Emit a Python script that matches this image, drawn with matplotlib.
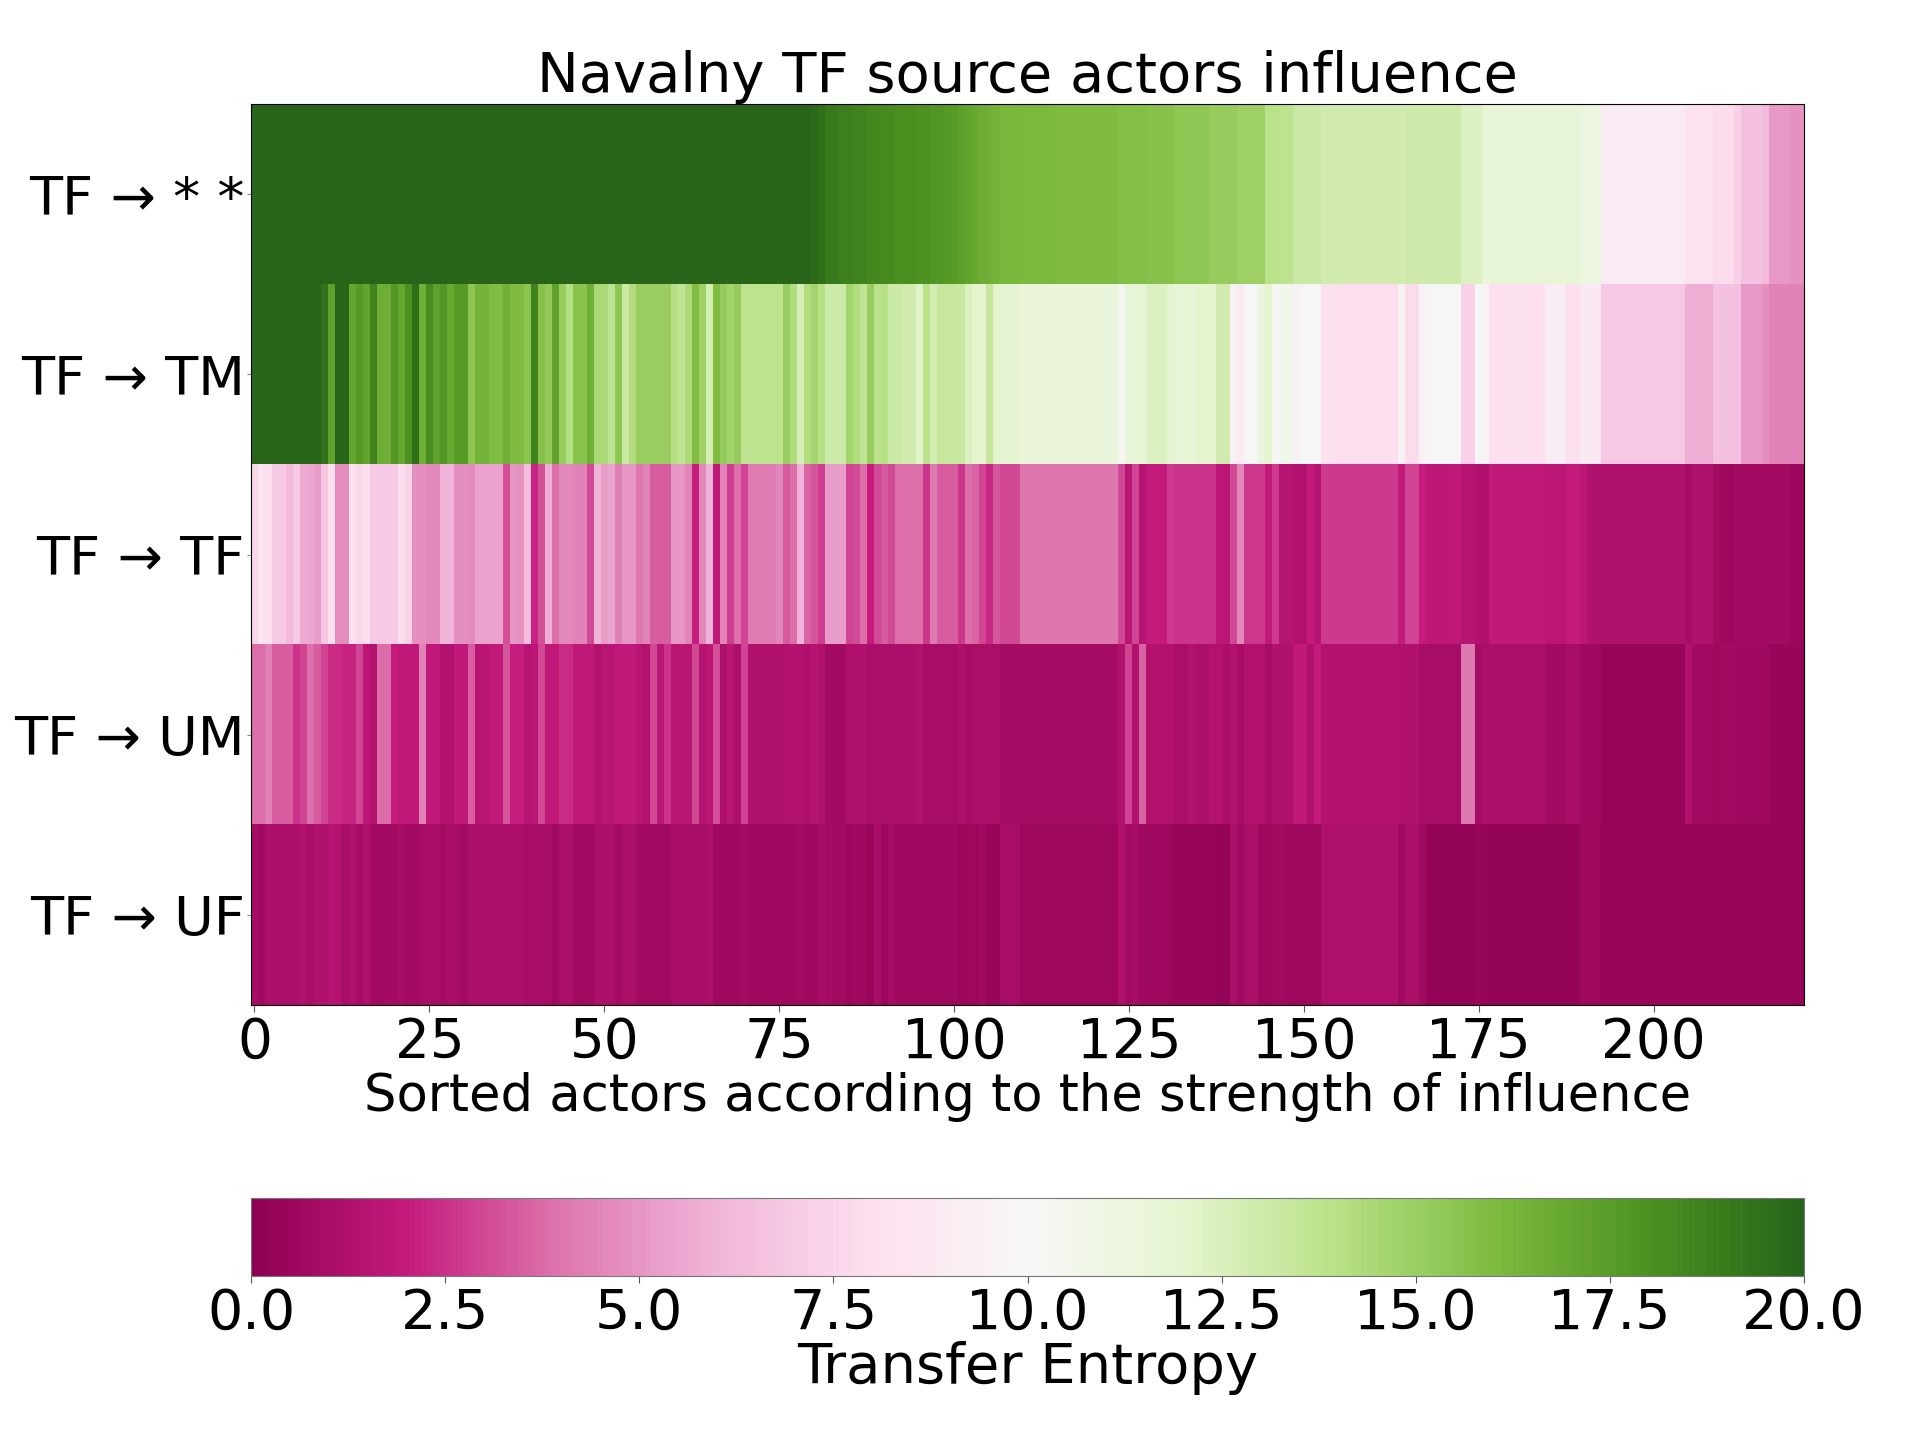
import numpy as np
import matplotlib.pyplot as plt

n_actors = 222
row_labels = ['TF → * *', 'TF → TM', 'TF → TF', 'TF → UM', 'TF → UF']

# (first column, value) for each stretch of equal colour
tf_all = [(0, 19.9), (80, 19.7), (81, 19.4), (82, 19.0), (84, 18.8), (86, 18.6), (88, 18.4), (90, 18.3),
          (92, 18.1), (95, 17.9), (97, 17.8), (99, 17.6), (100, 17.5), (101, 17.3), (102, 17.1), (103, 16.9),
          (104, 16.7), (105, 16.5), (106, 16.4), (107, 16.2), (110, 16.1), (115, 16.0), (124, 15.8), (128, 15.7),
          (132, 15.4), (137, 15.1), (141, 14.9), (145, 13.9), (147, 13.7), (149, 13.2), (153, 12.9),
          (165, 13.0), (173, 12.4), (176, 11.6), (190, 11.3), (193, 9.0), (205, 8.2), (209, 7.8),
          (212, 7.3), (213, 6.6), (216, 6.2), (217, 5.1), (220, 4.9)]

tf_tm = [(0, 19.9), (10, 19.3), (11, 17.2), (12, 19.9), (14, 17.0), (15, 17.6), (16, 17.1), (17, 18.6),
         (18, 16.6), (20, 17.7), (21, 17.0), (22, 18.0), (23, 19.5), (24, 16.5), (25, 18.2), (26, 17.2),
         (27, 17.7), (28, 16.9), (29, 17.5), (31, 15.4), (32, 16.4), (34, 16.0), (36, 16.5), (37, 16.0),
         (39, 15.5), (40, 18.6), (41, 15.7), (42, 15.3), (43, 17.2), (44, 15.0), (45, 14.0), (46, 15.6),
         (48, 16.5), (49, 14.4), (51, 13.7), (52, 15.4), (53, 13.2), (54, 14.2), (55, 15.0), (60, 14.0),
         (61, 13.6), (62, 14.3), (63, 15.9), (64, 14.9), (65, 12.8), (66, 16.0), (67, 15.2), (68, 14.7),
         (69, 15.1), (70, 13.7), (76, 15.0), (77, 14.2), (78, 12.6), (79, 14.2), (80, 14.7), (81, 14.0),
         (82, 13.1), (85, 14.7), (86, 14.2), (87, 13.6), (88, 15.0), (89, 13.8), (90, 14.0), (91, 13.2),
         (93, 12.9), (95, 12.2), (96, 13.9), (97, 12.8), (98, 13.3), (102, 12.4), (103, 12.0), (105, 13.3),
         (106, 12.1), (107, 11.9), (110, 11.4), (124, 10.2), (125, 11.6), (128, 12.4), (131, 11.9),
         (132, 11.7), (135, 12.0), (138, 12.9), (140, 9.5), (141, 9.0), (142, 10.0), (144, 11.2), (145, 12.0),
         (146, 10.0), (147, 10.7), (149, 9.5), (150, 10.0), (153, 8.2), (155, 7.9), (164, 9.7), (165, 7.8),
         (167, 9.6), (168, 10.0), (173, 7.3), (175, 10.0), (176, 9.6), (177, 8.0), (185, 9.1), (188, 8.0),
         (190, 8.8), (193, 6.9), (205, 5.8), (209, 6.6), (213, 5.1), (216, 4.8), (217, 4.4)]

tf_tf = [(0, 7.5), (1, 8.3), (2, 7.9), (3, 7.0), (5, 6.2), (6, 7.0), (7, 5.7), (8, 5.6), (9, 5.2), (10, 6.8),
         (11, 8.0), (12, 4.7), (14, 8.0), (15, 7.7), (16, 8.1), (17, 7.0), (21, 7.9), (22, 7.4), (23, 4.8),
         (25, 4.6), (27, 6.0), (29, 4.8), (31, 4.7), (32, 5.4), (36, 3.2), (37, 5.0), (38, 4.9), (39, 6.4),
         (40, 2.2), (41, 3.2), (42, 5.8), (43, 3.9), (44, 4.6), (46, 4.4), (48, 3.0), (49, 6.0), (50, 5.2),
         (51, 5.5), (52, 4.3), (53, 5.0), (55, 4.0), (56, 4.4), (57, 3.5), (60, 5.0), (62, 4.5), (63, 2.1),
         (64, 4.6), (65, 6.0), (66, 1.9), (67, 4.4), (68, 2.8), (69, 3.9), (70, 2.9), (71, 4.2), (75, 4.6),
         (76, 3.4), (77, 3.9), (78, 6.0), (79, 3.6), (80, 3.3), (81, 2.8), (82, 5.3), (85, 2.9), (86, 3.1),
         (87, 3.9), (88, 2.0), (89, 3.0), (90, 3.4), (91, 3.0), (92, 3.9), (96, 2.6), (97, 4.2), (98, 3.5),
         (101, 2.6), (102, 3.9), (103, 3.6), (104, 2.9), (105, 2.3), (106, 3.3), (107, 3.0), (110, 4.0),
         (124, 3.0), (125, 1.6), (126, 2.9), (127, 1.5), (128, 2.0), (131, 2.7), (132, 2.5), (138, 1.7),
         (140, 3.0), (141, 4.6), (142, 2.6), (145, 1.9), (146, 2.7), (147, 1.5), (149, 1.4), (151, 2.0),
         (152, 1.5), (153, 2.7), (164, 2.0), (165, 2.9), (167, 2.1), (168, 1.75), (172, 1.9), (173, 1.5),
         (175, 1.4), (176, 1.2), (177, 1.95), (185, 1.7), (188, 2.0), (190, 1.7), (191, 1.3), (205, 1.0),
         (206, 1.3), (209, 0.85), (210, 0.55), (212, 0.8), (216, 0.85), (217, 0.8), (220, 0.5)]

tf_um = [(0, 3.9), (2, 4.3), (3, 3.5), (6, 2.5), (7, 2.9), (8, 3.9), (9, 3.5), (10, 2.9), (11, 2.4), (13, 2.2),
         (15, 2.9), (16, 1.7), (17, 1.4), (18, 3.8), (20, 2.0), (21, 1.8), (24, 4.4), (25, 1.9), (27, 1.4),
         (29, 1.9), (31, 3.5), (32, 1.6), (34, 1.9), (36, 3.3), (37, 2.1), (39, 1.5), (40, 1.7), (41, 3.0),
         (42, 1.9), (44, 2.4), (46, 1.8), (49, 1.4), (50, 1.6), (52, 1.9), (55, 1.6), (56, 1.4), (57, 3.0),
         (58, 1.7), (59, 2.5), (60, 1.6), (63, 3.0), (64, 1.5), (65, 1.7), (66, 3.2), (67, 1.1), (68, 1.6),
         (69, 1.1), (70, 2.9), (71, 1.3), (77, 1.4), (79, 1.2), (80, 1.5), (81, 1.3), (82, 0.85), (85, 1.2),
         (88, 1.1), (95, 1.3), (96, 1.0), (101, 1.2), (102, 0.95), (103, 1.05), (107, 0.9), (124, 1.3),
         (125, 2.9), (126, 1.4), (127, 3.6), (128, 1.35), (132, 1.05), (134, 1.4), (135, 1.1), (137, 1.35),
         (139, 1.05), (140, 1.4), (141, 1.0), (142, 1.4), (145, 1.0), (146, 1.25), (149, 1.9), (151, 1.3),
         (152, 2.0), (153, 1.4), (164, 1.2), (165, 1.3), (167, 1.0), (173, 4.1), (175, 0.9), (176, 1.15),
         (185, 0.85), (188, 1.0), (190, 0.7), (193, 0.35), (205, 1.3), (206, 0.8), (209, 0.6), (210, 0.8),
         (212, 0.7), (217, 0.45)]

tf_uf = [(0, 0.95), (1, 0.75), (2, 1.1), (7, 1.3), (8, 1.05), (9, 1.25), (11, 1.5), (12, 1.35), (13, 1.0), (14, 1.2),
         (15, 0.95), (16, 1.25), (17, 0.8), (21, 1.0), (22, 0.8), (24, 1.0), (27, 0.85), (28, 1.05), (29, 0.95),
         (30, 0.8), (31, 1.1), (39, 0.95), (43, 0.75), (44, 1.1), (46, 0.85), (48, 0.75), (49, 1.15), (51, 1.1),
         (52, 0.85), (53, 1.05), (55, 0.8), (58, 0.7), (60, 1.0), (65, 1.1), (66, 0.65), (70, 0.9), (71, 0.65),
         (78, 0.85), (79, 0.7), (81, 0.95), (82, 0.8), (85, 0.5), (86, 0.65), (88, 0.45), (89, 0.95), (90, 0.5),
         (91, 0.95), (92, 0.7), (98, 0.65), (101, 0.5), (102, 0.6), (104, 0.75), (105, 0.45), (107, 1.0),
         (110, 0.6), (124, 1.2), (125, 0.85), (126, 1.0), (127, 0.7), (131, 0.55), (132, 0.45), (138, 0.3),
         (140, 1.1), (141, 0.75), (142, 1.05), (144, 0.55), (146, 0.75), (148, 0.55), (153, 1.2), (164, 0.7),
         (165, 1.05), (167, 0.65), (168, 0.3), (175, 0.45), (176, 0.25), (188, 0.3), (190, 0.55), (193, 0.45),
         (209, 0.4), (213, 0.35)]


def expand(runs):
    col = np.zeros(n_actors)
    for start, value in runs:
        col[start:] = value
    return col


matrix = np.vstack([expand(r) for r in [tf_all, tf_tm, tf_tf, tf_um, tf_uf]])

fig = plt.figure(figsize=(19.2, 14.42), dpi=100)
ax = fig.add_axes([251 / 1920, 1 - 1005 / 1442, 1553 / 1920, 901 / 1442])
cax = fig.add_axes([251 / 1920, 1 - 1276 / 1442, 1553 / 1920, 78 / 1442])

im = ax.imshow(matrix, cmap='PiYG', vmin=0, vmax=20, aspect='auto', interpolation='nearest')
ax.set_xticks(np.arange(0, 201, 25))
ax.set_yticks(range(5))
ax.set_yticklabels(row_labels)
ax.tick_params(axis='x', labelsize=39.5, pad=3, color='#555555', length=5)
ax.tick_params(axis='y', labelsize=39, pad=1.5, color='#888888', length=3)
ax.set_xlabel('Sorted actors according to the strength of influence', fontsize=36.8, labelpad=1)
ax.set_title('Navalny TF source actors influence', fontsize=40.2, pad=4)

cb = fig.colorbar(im, cax=cax, orientation='horizontal')
cb.set_ticks(np.arange(0, 20.1, 2.5))
cb.ax.tick_params(labelsize=40, color='#555555', length=5, pad=3)
cb.set_label('Transfer Entropy', fontsize=40.3, labelpad=0)
cb.outline.set_edgecolor('#777777')

fig.savefig('out.png', dpi=100)
